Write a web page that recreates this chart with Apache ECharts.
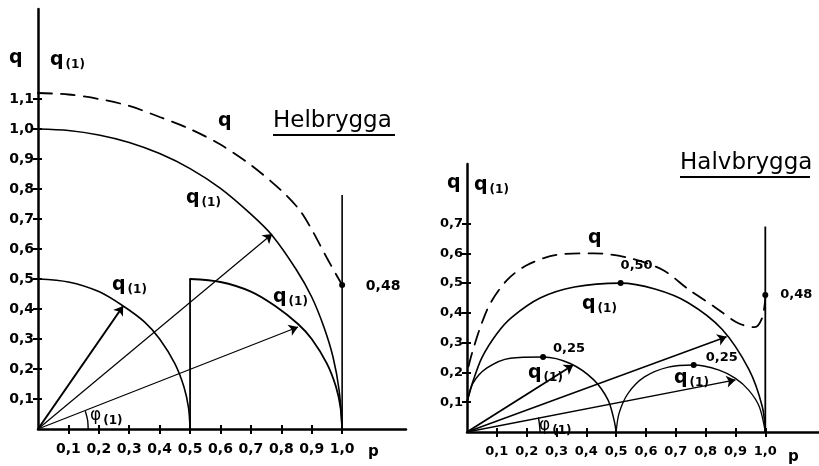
<!DOCTYPE html>
<html><head><meta charset="utf-8">
<script src="https://cdn.jsdelivr.net/npm/echarts@6/dist/echarts.min.js"></script>
<style>html,body{margin:0;padding:0;background:#fff}#c{width:819px;height:466px}</style>
</head><body><div id="c"></div>
<script>
// ---------- DATA ----------
// Left panel: Helbrygga
const helXTicks = [0.1,0.2,0.3,0.4,0.5,0.6,0.7,0.8,0.9,1.0];
const helYTicks = [0.1,0.2,0.3,0.4,0.5,0.6,0.7,0.8,0.9,1.0,1.1];
const helBigArc = [[0,1.0],[0.1,0.995],[0.2,0.98],[0.3,0.955],[0.4,0.918],[0.5,0.868],[0.6,0.802],[0.7,0.716],[0.77,0.645],[0.85,0.53],[0.9,0.44],[0.94,0.34],[0.97,0.24],[0.99,0.13],[1.0,0]];
const helSmallArc = [[0,0.5],[0.1,0.49],[0.2,0.458],[0.28,0.41],[0.35,0.357],[0.4,0.3],[0.45,0.218],[0.48,0.14],[0.495,0.07],[0.5,0]];
const helSecondArc = [[0.5,0.5],[0.6,0.49],[0.7,0.458],[0.78,0.41],[0.855,0.35],[0.9,0.3],[0.95,0.218],[0.98,0.14],[0.995,0.07],[1.0,0]];
const helStep = [[0.5,0],[0.5,0.5]];
const helDashed = [[0,1.12],[0.1,1.115],[0.2,1.10],[0.3,1.077],[0.4,1.04],[0.5,1.0],[0.6,0.948],[0.7,0.88],[0.8,0.795],[0.86,0.73],[0.9,0.665],[0.95,0.57],[1.0,0.48]];
const helVertical = [[1.0,0],[1.0,0.78]];
const helArrows = [[0.28,0.41],[0.77,0.65],[0.855,0.34]];
const helAngleArc = [[0.165,0],[0.163,0.03],[0.156,0.058]];
const helDots = [[1.0,0.48]];
const helDotLabels = ['0,48'];

// Right panel: Halvbrygga
const halXTicks = [0.1,0.2,0.3,0.4,0.5,0.6,0.7,0.8,0.9,1.0];
const halYTicks = [0.1,0.2,0.3,0.4,0.5,0.6,0.7];
const halBigArch = [[0,0.1],[0.02,0.17],[0.05,0.25],[0.1,0.33],[0.15,0.385],[0.245,0.45],[0.36,0.487],[0.515,0.5],[0.63,0.48],[0.74,0.435],[0.855,0.345],[0.945,0.21],[0.99,0.085],[1.0,0]];
const halArch1 = [[0,0.1],[0.02,0.164],[0.067,0.215],[0.145,0.248],[0.255,0.252],[0.346,0.23],[0.425,0.175],[0.473,0.107],[0.493,0.04],[0.5,0]];
const halArch2 = [[0.5,0],[0.51,0.064],[0.54,0.13],[0.595,0.185],[0.675,0.218],[0.76,0.225],[0.845,0.208],[0.9,0.18],[0.945,0.14],[0.98,0.085],[1.0,0]];
const halDashed = [[0.005,0.22],[0.017,0.265],[0.044,0.35],[0.077,0.43],[0.134,0.51],[0.2,0.56],[0.3,0.595],[0.425,0.60],[0.54,0.585],[0.655,0.545],[0.745,0.477],[0.83,0.42],[0.91,0.365],[0.965,0.352],[0.99,0.385],[1.0,0.45]];
const halVertical = [[1.0,0],[1.0,0.69]];
const halArrows = [[0.356,0.225],[0.87,0.32],[0.90,0.175]];
const halAngleArc = [[0.245,0],[0.243,0.025],[0.24,0.046]];
const halDots = [[0.255,0.252],[0.515,0.50],[0.76,0.225],[1.0,0.46]];
const halDotLabels = ['0,25','0,50','0,25','0,48'];

// ---------- STYLE / LAYOUT ----------
const FF = 'DejaVu Sans';
const fmt = v => (Math.round(v*10)/10).toFixed(1).replace('.', ',');
const black = '#000';

function axisPair(kind, grid, max, ticks, labelMargin, fontSize) {
  const pos = kind === 'x' ? 'bottom' : 'left';
  return [
    { gridIndex: grid, type: 'value', min: 0, max: max, position: pos,
      axisLine: { show: true, onZero: false, lineStyle: { color: black, width: 2.5 } },
      splitLine: { show: false },
      axisTick: { show: true, customValues: ticks, length: 5, lineStyle: { color: black, width: 2 } },
      axisLabel: { show: true, customValues: ticks, formatter: fmt, margin: labelMargin, color: black,
                   fontFamily: FF, fontWeight: 'bold', fontSize: fontSize } },
    { gridIndex: grid, type: 'value', min: 0, max: max, position: pos,
      axisLine: { show: false, onZero: false },
      splitLine: { show: false },
      axisTick: { show: true, inside: true, customValues: ticks, length: 4, lineStyle: { color: black, width: 2 } },
      axisLabel: { show: false } }
  ];
}

function curve(data, xi, yi, width, dashed) {
  return { type: 'line', xAxisIndex: xi, yAxisIndex: yi, data: data, symbol: 'none', showSymbol: false,
           smooth: 0.3, silent: true, clip: false,
           lineStyle: { color: black, width: width, type: dashed ? [14, 9] : 'solid', cap: 'round' } };
}
function straight(data, xi, yi, width) {
  return { type: 'line', xAxisIndex: xi, yAxisIndex: yi, data: data, symbol: 'none', showSymbol: false,
           smooth: false, silent: true, clip: false, lineStyle: { color: black, width: width } };
}
function arrows(tips, xi, yi, widths) {
  return { type: 'lines', coordinateSystem: 'cartesian2d', xAxisIndex: xi, yAxisIndex: yi,
           symbol: ['none', 'arrow'], symbolSize: 9, silent: true,
           lineStyle: { color: black, width: 1.3, opacity: 1, curveness: 0 },
           data: tips.map((t, i) => ({ coords: [[0, 0], t], lineStyle: { width: widths[i], color: black, opacity: 1 } })) };
}
function dots(pts, labels, offsets, xi, yi, fontSize) {
  return { type: 'scatter', xAxisIndex: xi, yAxisIndex: yi, symbol: 'circle', symbolSize: 6, silent: true,
           itemStyle: { color: black, opacity: 1 },
           data: pts.map((p, i) => ({ value: p,
             label: { show: true, position: 'inside', offset: offsets[i], formatter: labels[i], opacity: 1,
                      color: '#000', textBorderWidth: 0, fontFamily: FF, fontWeight: 'bold', fontSize: fontSize } })) };
}

const helAx = axisPair('x', 0, 1.21, helXTicks, 13, 14);
const helAy = axisPair('y', 0, 1.4, helYTicks, 4, 14);
const halAx = axisPair('x', 1, 1.18, halXTicks, 13, 13);
const halAy = axisPair('y', 1, 0.9, halYTicks, 4, 13);

const qRich = {
  q: { fontFamily: FF, fontSize: 19, fontWeight: 'bold', color: black },
  s: { fontFamily: FF, fontSize: 12, fontWeight: 'bold', color: black, padding: [9, 0, 0, 2] },
  f: { fontFamily: FF, fontSize: 17, color: black }
};
function qText(x, y, sub) {
  return { type: 'text', x: x, y: y, silent: true,
           style: { text: sub ? '{q|q}{s|(1)}' : '{q|q}', rich: qRich, textVerticalAlign: 'middle', fill: black } };
}
function phiText(x, y) {
  return { type: 'text', x: x, y: y, silent: true,
           style: { text: '{f|φ}{s|(1)}', rich: qRich, textVerticalAlign: 'middle', fill: black } };
}
function plain(x, y, txt, size, weight) {
  return { type: 'text', x: x, y: y, silent: true,
           style: { text: txt, fontFamily: FF, fontSize: size, fontWeight: weight || 'normal', fill: black, textVerticalAlign: 'middle' } };
}
function uline(x1, x2, y) {
  return { type: 'line', silent: true, shape: { x1: x1, y1: y, x2: x2, y2: y }, style: { stroke: black, lineWidth: 1.8 } };
}

const option = {
  animation: false,
  backgroundColor: '#fff',
  grid: [
    { left: 38, top: 9, width: 368, height: 420, containLabel: false },
    { left: 467, top: 164, width: 352, height: 268, containLabel: false }
  ],
  xAxis: [helAx[0], helAx[1], halAx[0], halAx[1]],
  yAxis: [helAy[0], helAy[1], halAy[0], halAy[1]],
  series: [
    curve(helBigArc, 0, 0, 1.6, false),
    curve(helSmallArc, 0, 0, 1.6, false),
    curve(helSecondArc, 0, 0, 1.8, false),
    straight(helStep, 0, 0, 1.8),
    curve(helDashed, 0, 0, 1.8, true),
    straight(helVertical, 0, 0, 1.6),
    curve(helAngleArc, 0, 0, 1.4, false),
    arrows(helArrows, 0, 0, [2, 1.2, 1.2]),
    dots(helDots, helDotLabels, [[41, 1]], 0, 0, 14),

    curve(halBigArch, 2, 2, 1.6, false),
    curve(halArch1, 2, 2, 1.5, false),
    curve(halArch2, 2, 2, 1.3, false),
    curve(halDashed, 2, 2, 1.8, true),
    straight(halVertical, 2, 2, 1.8),
    curve(halAngleArc, 2, 2, 1.4, false),
    arrows(halArrows, 2, 2, [1.8, 1.5, 1.4]),
    dots(halDots, halDotLabels, [[26, -8], [16, -17], [28, -7], [31, 0]], 2, 2, 13)
  ],
  graphic: [
    qText(9, 58, false), qText(50, 60, true),
    qText(218, 121, false),
    qText(186, 198, true),
    qText(112, 285, true),
    qText(273, 297, true),
    phiText(90, 416),
    plain(273, 121, 'Helbrygga', 23),
    uline(273, 395, 135),
    plain(368, 452, 'p', 15, 'bold'),

    qText(447, 183, false), qText(474, 185, true),
    qText(588, 238, false),
    qText(582, 304, true),
    qText(528, 373, true),
    qText(674, 378, true),
    phiText(539, 426),
    plain(680, 163, 'Halvbrygga', 23),
    uline(680, 810, 177),
    plain(788, 457, 'p', 15, 'bold')
  ]
};
const chart = echarts.init(document.getElementById('c'), null, { renderer: 'canvas' });
chart.setOption(option);
</script></body></html>
